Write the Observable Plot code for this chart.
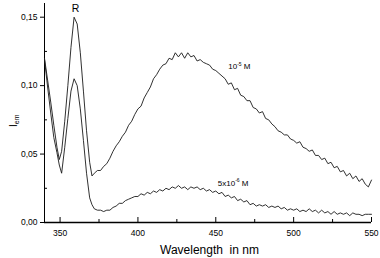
<!DOCTYPE html>
<html>
<head>
<meta charset="utf-8">
<script src="https://cdn.jsdelivr.net/npm/d3@7"></script>
<script src="https://cdn.jsdelivr.net/npm/@observablehq/plot@0.6"></script>
<style>
  html, body { margin: 0; padding: 0; background: #fff; }
  #chart { width: 380px; height: 258px; }
</style>
</head>
<body>
<div id="chart"></div>
<script>
// Wavelength (nm)
const wavelengths = [
  340, 342, 344, 346, 348, 349.5, 351, 353, 355, 357,
  359, 361, 363, 365, 367, 369, 370.5, 372,
  374, 376, 378, 380, 382, 384, 386, 388, 390, 392,
  394, 396, 398, 400, 402, 404, 406, 408, 410, 412,
  414, 416, 418, 420, 422, 424, 426, 428, 430, 432,
  434, 436, 438, 440, 442, 444, 446, 448, 450, 452,
  454, 456, 458, 460, 462, 464, 466, 468, 470, 472,
  474, 476, 478, 480, 482, 484, 486, 488, 490, 492,
  494, 496, 498, 500, 502, 504, 506, 508, 510, 512,
  514, 516, 518, 520, 522, 524, 526, 528, 530, 532,
  534, 536, 538, 540, 542, 544, 546, 548, 550
];
// 10^-5 M
const series1e5 = [
  0.120, 0.104, 0.088, 0.071, 0.055, 0.046, 0.052, 0.074, 0.100, 0.128,
  0.150, 0.145, 0.124, 0.096, 0.067, 0.044, 0.034, 0.036,
  0.038, 0.038, 0.041, 0.043, 0.047, 0.052, 0.056, 0.059, 0.063, 0.066,
  0.071, 0.074, 0.079, 0.083, 0.085, 0.091, 0.095, 0.099, 0.105, 0.108,
  0.112, 0.115, 0.116, 0.120, 0.119, 0.124, 0.121, 0.124, 0.120, 0.124,
  0.121, 0.122, 0.118, 0.119, 0.117, 0.116, 0.115, 0.112, 0.111, 0.109,
  0.107, 0.105, 0.101, 0.102, 0.097, 0.098, 0.093, 0.092, 0.089, 0.089,
  0.084, 0.083, 0.080, 0.081, 0.076, 0.075, 0.072, 0.070, 0.067, 0.066,
  0.064, 0.064, 0.061, 0.060, 0.058, 0.059, 0.055, 0.054, 0.052, 0.053,
  0.049, 0.049, 0.046, 0.047, 0.043, 0.044, 0.040, 0.041, 0.037, 0.038,
  0.034, 0.036, 0.032, 0.034, 0.030, 0.032, 0.028, 0.026, 0.031
];
// 5x10^-6 M
const series5e6 = [
  0.119, 0.099, 0.080, 0.062, 0.051, 0.042, 0.036, 0.055, 0.076, 0.096,
  0.105, 0.100, 0.083, 0.060, 0.036, 0.018, 0.013, 0.010,
  0.009, 0.009, 0.008, 0.009, 0.009, 0.011, 0.012, 0.014, 0.014, 0.016,
  0.017, 0.018, 0.019, 0.019, 0.021, 0.020, 0.022, 0.021, 0.023, 0.022,
  0.024, 0.023, 0.025, 0.024, 0.026, 0.025, 0.027, 0.025, 0.026, 0.024,
  0.026, 0.025, 0.026, 0.024, 0.025, 0.023, 0.024, 0.022, 0.023, 0.021,
  0.022, 0.019, 0.020, 0.018, 0.019, 0.016, 0.017, 0.015, 0.016, 0.013,
  0.014, 0.012, 0.013, 0.012, 0.013, 0.011, 0.012, 0.011, 0.012, 0.010,
  0.011, 0.009, 0.010, 0.009, 0.010, 0.008, 0.009, 0.008, 0.010, 0.008,
  0.009, 0.007, 0.009, 0.007, 0.008, 0.006, 0.008, 0.006, 0.007, 0.006,
  0.007, 0.005, 0.007, 0.006, 0.006, 0.005, 0.006, 0.006, 0.006
];
const xMajorTicks = [350, 400, 450, 500, 550];
const xMinorTicks = [375, 425, 475, 525];
const yMajorTicks = [0, 0.05, 0.10, 0.15];
const yMinorTicks = [0.025, 0.075, 0.125];
const xDomain = [340, 550];
const yDomain = [0, 0.16];
const xTitle = "Wavelength\u00a0 in nm";
const peakLabel = {text: "R", x: 360, y: 0.1535};
const curveLabels = [
  {base: "10", sup: "-5", tail: " M", x: 465.5, y: 0.1115},
  {base: "5x10", sup: "-6", tail: " M", x: 461.5, y: 0.0265}
];

const table = wavelengths.map((w, i) => ({w, a: series1e5[i], b: series5e6[i]}));

const W = 380, H = 258;
const mL = 44, mR = 9, mT = 3, mB = 36;
const innerW = W - mL - mR, innerH = H - mT - mB;
const fmt = d => d3.format(".2f")(d).replace(".", ",");
const font = "Liberation Sans, Arial, sans-serif";

const chart = Plot.plot({
  width: W, height: H,
  marginLeft: mL, marginRight: mR, marginTop: mT, marginBottom: mB,
  style: {fontFamily: font, fontSize: "8.5px", color: "#000", background: "#fff"},
  x: {domain: xDomain},
  y: {domain: yDomain},
  marks: [
    Plot.axisY({ticks: yMajorTicks, tickSize: 4, tickPadding: 3, tickFormat: fmt, label: null, stroke: "#000", fill: "#000"}),
    Plot.tickY(yMinorTicks, {y: d => d, insetRight: innerW - 3, stroke: "#000"}),
    Plot.axisX({ticks: xMajorTicks, tickSize: 0, tickPadding: 7, label: null, fill: "#000"}),
    Plot.tickX(xMajorTicks, {x: d => d, insetTop: innerH - 5, stroke: "#000"}),
    Plot.tickX(xMinorTicks, {x: d => d, insetTop: innerH - 3, stroke: "#000"}),
    Plot.ruleX([xDomain[0]], {stroke: "#000", strokeWidth: 1}),
    Plot.ruleY([0], {stroke: "#000", strokeWidth: 1.3}),
    Plot.line(table, {x: "w", y: "a", stroke: "#1a1a1a", strokeWidth: 0.9}),
    Plot.line(table, {x: "w", y: "b", stroke: "#1a1a1a", strokeWidth: 0.9}),
    Plot.text([peakLabel], {x: "x", y: "y", text: "text", fontSize: 10.5, textAnchor: "middle", lineAnchor: "bottom", fill: "#000"}),
    Plot.text([xTitle], {frameAnchor: "bottom", dx: 1.5, dy: 31.5, lineAnchor: "bottom", fontSize: 12, fill: "#000"})
  ]
});
document.getElementById("chart").appendChild(chart);

// Curve labels with superscripts, and the y title with subscript
const sx = chart.scale("x"), sy = chart.scale("y");
const svg = d3.select(chart);
for (const c of curveLabels) {
  const t = svg.append("text")
    .attr("x", sx.apply(c.x)).attr("y", sy.apply(c.y))
    .attr("font-family", font).attr("font-size", 8).attr("fill", "#000");
  t.append("tspan").text(c.base);
  t.append("tspan").attr("font-size", 5).attr("dy", -3.5).text(c.sup);
  t.append("tspan").attr("dy", 3.5).text(c.tail);
}
const yt = svg.append("text")
  .attr("transform", `translate(17,${sy.apply(0.074)}) rotate(-90)`)
  .attr("text-anchor", "middle")
  .attr("font-family", font).attr("font-size", 10).attr("fill", "#000");
yt.append("tspan").text("I");
yt.append("tspan").attr("font-size", 7).attr("dy", 2).text("em");
</script>
</body>
</html>
